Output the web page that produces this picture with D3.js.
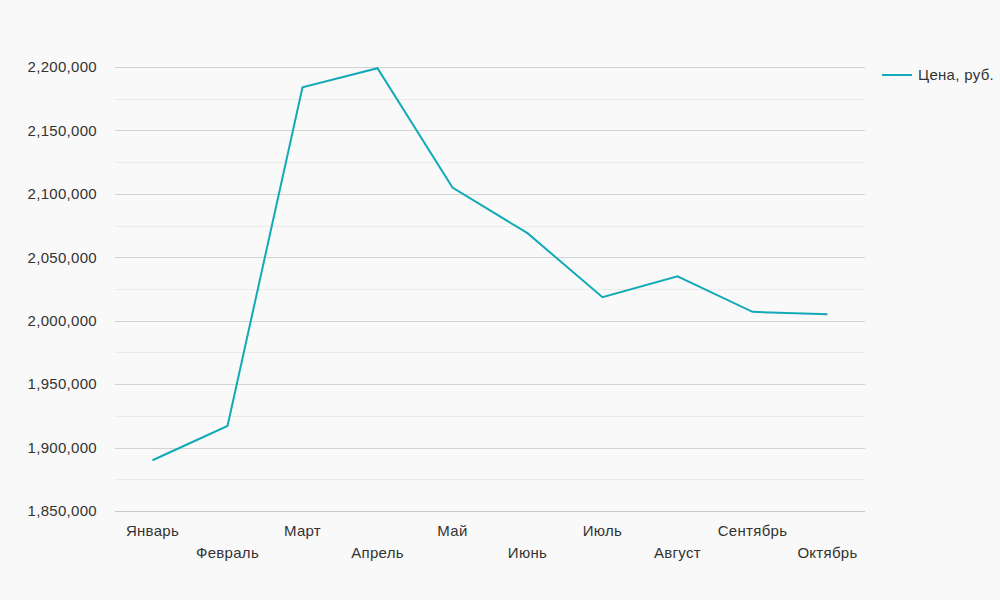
<!DOCTYPE html>
<html><head><meta charset="utf-8">
<script src="https://cdn.jsdelivr.net/npm/d3@7"></script>
<style>body{margin:0;background:#f9f9f9;} svg{display:block;font-family:"Liberation Sans",Arial,sans-serif;}</style>
</head><body><svg id="c" width="1000" height="600"></svg>
<script>
const categories = ["Январь","Февраль","Март","Апрель","Май","Июнь","Июль","Август","Сентябрь","Октябрь"];
const prices = [1890000,1917000,2184000,2199000,2105000,2069000,2018500,2035000,2007000,2005000];
const yTicks = [1850000,1900000,1950000,2000000,2050000,2100000,2150000,2200000];
const seriesName = "Цена, руб.";

const svg = d3.select("#c");
svg.append("rect").attr("width",1000).attr("height",600).attr("fill","#f9f9f9");
const x = d3.scaleBand().domain(categories).range([115,865]);
const y = d3.scaleLinear().domain([1850000,2200000]).range([511,67]);
const fmt = d3.format(",");
const FS = 15, LS = "0.3px";

// minor grid
const minor = d3.range(1875000,2200000,50000);
svg.append("g").selectAll("line").data(minor).join("line")
  .attr("x1",115).attr("x2",865).attr("y1",d=>Math.round(y(d))+0.5).attr("y2",d=>Math.round(y(d))+0.5)
  .attr("stroke","#ebebeb").attr("stroke-width",1);
svg.append("g").selectAll("line").data(yTicks).join("line")
  .attr("x1",115).attr("x2",865).attr("y1",d=>Math.round(y(d))+0.5).attr("y2",d=>Math.round(y(d))+0.5)
  .attr("stroke",d=>d===1850000?"#c8c8c8":"#d3d3d3").attr("stroke-width",1);

svg.append("g").selectAll("text").data(yTicks).join("text")
  .attr("x",97).attr("y",d=>y(d)).attr("dy","0.35em").attr("text-anchor","end")
  .attr("font-size",FS).attr("letter-spacing",LS).attr("fill","#333").text(d=>fmt(d));

svg.append("g").selectAll("text").data(categories).join("text")
  .attr("x",d=>x(d)+x.bandwidth()/2).attr("y",(d,i)=>i%2===0?536:558)
  .attr("text-anchor","middle").attr("font-size",FS).attr("letter-spacing",LS).attr("fill","#333").text(d=>d);

const line = d3.line().x((d,i)=>x(categories[i])+x.bandwidth()/2).y(d=>y(d));
svg.append("path").datum(prices).attr("d",line).attr("fill","none")
  .attr("stroke","#13aab7").attr("stroke-width",2).attr("stroke-linejoin","miter");

svg.append("line").attr("x1",882).attr("x2",912).attr("y1",75).attr("y2",75).attr("stroke","#13aab7").attr("stroke-width",2);
svg.append("text").attr("x",918).attr("y",75).attr("dy","0.35em").attr("font-size",FS).attr("letter-spacing",LS).attr("fill","#333").text(seriesName);
</script></body></html>
